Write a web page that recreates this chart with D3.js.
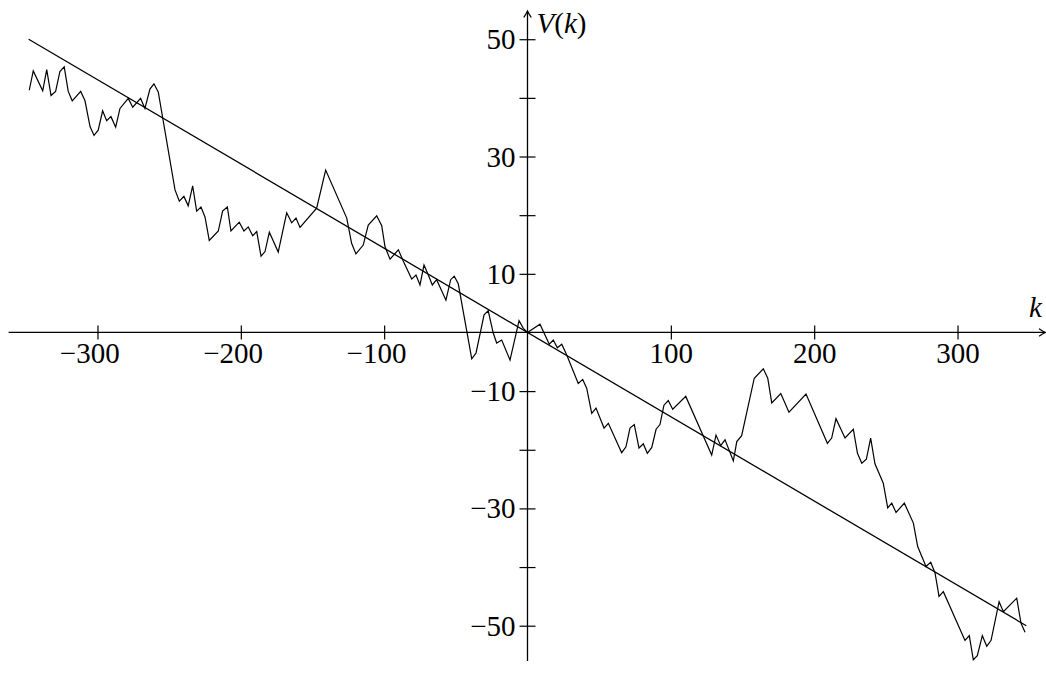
<!DOCTYPE html>
<html>
<head>
<meta charset="utf-8">
<script src="https://cdn.jsdelivr.net/npm/d3@7"></script>
<style>
  body { margin: 0; background: #fff; }
  svg { display: block; }
  .lbl { font-family: "Liberation Serif", "DejaVu Serif", serif; font-size: 29px; fill: #000; }
</style>
</head>
<body>
<div id="chart"></div>
<script>
// random walk V(k)
var walkK = [
  -347.6,-344.8,-338.2,-335.4,-332.4,-329.2,-326.2,-323.2,-320.4,-317.6,
  -311.7,-308.7,-305.2,-302.4,-299.5,-296.4,-293.6,-290.6,-287.3,-284.3,
  -278.5,-275.4,-269.9,-266.9,-263.4,-260.6,-257.6,-245.9,-242.9,-239.7,
  -236.7,-233.6,-230.8,-227.8,-225.0,-222.0,-215.7,-212.7,-209.4,-206.9,
  -201.1,-197.8,-194.8,-191.7,-188.9,-185.9,-183.1,-180.1,-173.9,-168.0,
  -164.5,-161.5,-158.7,-147.1,-140.8,-126.1,-122.7,-119.7,-114.6,-111.1,
  -105.2,-101.7,-99.4,-95.9,-90.1,-86.7,-80.8,-77.8,-75.0,-72.2,
  -69.2,-66.4,-63.4,-56.9,-53.6,-51.1,-48.3,-38.9,-35.9,-30.3,
  -27.4,-23.9,-21.5,-18.0,-12.2,-5.9,-2.9,0,8.7,15.2,
  18.0,20.8,23.9,27.3,35.4,38.5,41.3,44.8,47.8,53.4,
  56.4,65.7,68.7,71.5,74.5,77.8,80.8,83.6,86.7,89.7,
  92.4,95.2,98.2,101.3,110.4,128.5,131.5,134.8,137.8,143.6,
  146.0,149.4,158.2,164.5,167.6,170.4,176.7,182.4,194.3,209.2,
  212.2,215.2,221.5,227.3,230.2,233.2,236.4,239.4,242.4,248.2,
  251.3,254.1,257.1,262.9,269.2,272.2,278.0,281.3,284.3,287.1,
  290.1,305.2,308.2,311.0,313.8,317.3,320.4,323.4,329.0,332.0,
  341.3,344.3,347.1
];
var walkV = [
  41.3,44.6,41.2,44.8,40.4,41.1,44.5,45.3,41.1,39.5,
  41.1,39.5,35.1,33.6,34.5,37.8,36.1,36.8,35.0,38.2,
  39.9,38.4,39.9,38.2,41.5,42.4,41.0,24.3,22.4,23.2,
  21.6,25.0,20.7,21.4,19.7,15.7,17.3,20.7,21.4,17.3,
  18.8,17.3,18.0,16.5,17.2,13.0,13.8,17.1,13.7,20.4,
  18.7,19.5,17.9,21.2,27.7,19.5,15.2,13.4,14.9,18.3,
  19.9,18.2,14.6,12.5,14.1,12.2,9.1,9.8,8.1,11.5,
  9.8,8.1,9.0,5.5,9.0,9.6,8.3,-4.5,-3.5,3.0,
  3.7,-0.1,-1.8,-1.3,-4.7,2.0,0.7,0,1.4,-2.0,
  -1.3,-2.6,-2.0,-3.8,-8.7,-8.0,-9.5,-13.8,-12.9,-16.3,
  -15.5,-20.5,-19.5,-16.3,-15.7,-19.7,-19.0,-20.6,-19.6,-16.5,
  -15.7,-12.4,-11.6,-13.1,-10.9,-20.9,-17.5,-19.3,-18.3,-21.9,
  -18.6,-17.6,-7.8,-6.2,-7.8,-12.0,-10.4,-13.6,-10.5,-18.9,
  -18.0,-14.7,-18.0,-16.5,-20.6,-22.3,-21.6,-18.0,-22.4,-25.7,
  -29.9,-29.1,-30.7,-29.1,-32.5,-36.5,-39.9,-39.2,-41.0,-45.0,
  -44.2,-52.5,-51.7,-55.8,-55.1,-51.7,-53.5,-52.5,-45.9,-47.6,
  -45.3,-49.6,-51.1
];
// fitted straight line
var trendK = [-348, 348];
var trendV = [50, -50];

var xTicks = [-300, -200, -100, 100, 200, 300];
var yTicks = [-50, -40, -30, -20, -10, 10, 20, 30, 40, 50];
var yLabels = [-50, -30, -10, 10, 30, 50];

var width = 1046, height = 682;

var x = d3.scaleLinear().domain([-362, 362]).range([8.6, 1046.4]);
var y = d3.scaleLinear().domain([-56, 55]).range([660.9, 9.9]);

var svg = d3.select('#chart')
  .append('svg')
  .attr('width', width)
  .attr('height', height);

var defs = svg.append('defs');
defs.append('marker')
  .attr('id', 'arrow')
  .attr('viewBox', '-8 -5 10 10')
  .attr('refX', 0)
  .attr('refY', 0)
  .attr('markerWidth', 10)
  .attr('markerHeight', 10)
  .attr('markerUnits', 'userSpaceOnUse')
  .attr('orient', 'auto')
  .append('path')
  .attr('d', 'M-6,-3.5 Q-2,-0.8 0,0 Q-2,0.8 -6,3.5')
  .attr('fill', 'none')
  .attr('stroke', '#000')
  .attr('stroke-width', 1.2)
  .attr('stroke-linecap', 'round');

// x axis
var xAxis = d3.axisBottom(x)
  .tickValues(xTicks)
  .tickSizeInner(7)
  .tickSizeOuter(0)
  .tickPadding(0)
  .tickFormat(function(d){ return Math.abs(d); });

var gx = svg.append('g')
  .attr('transform', 'translate(0,' + y(0) + ')')
  .call(xAxis);
gx.select('.domain').remove();
gx.selectAll('.tick line')
  .attr('y1', -7).attr('y2', 7)
  .attr('stroke', '#000').attr('stroke-width', 1.2);
gx.selectAll('.tick text')
  .attr('class', 'lbl')
  .attr('font-family', null).attr('font-size', null)
  .attr('dy', null)
  .attr('y', 31)
  .each(function(d){
    if (d < 0) {
      var w = this.getComputedTextLength();
      d3.select(this)
        .attr('text-anchor', 'end')
        .attr('x', w / 2)
        .text('\u2212' + Math.abs(d));
    }
  });

svg.append('line')
  .attr('x1', x(-362)).attr('x2', x(361.3))
  .attr('y1', y(0)).attr('y2', y(0))
  .attr('stroke', '#000').attr('stroke-width', 1.3)
  .attr('marker-end', 'url(#arrow)');

// y axis
var yAxis = d3.axisLeft(y)
  .tickValues(yTicks)
  .tickSizeInner(8)
  .tickSizeOuter(0)
  .tickPadding(4)
  .tickFormat(function(d){
    return yLabels.indexOf(d) >= 0 ? (d < 0 ? '\u2212' + Math.abs(d) : d) : '';
  });

var gy = svg.append('g')
  .attr('transform', 'translate(' + x(0) + ',0)')
  .call(yAxis);
gy.select('.domain').remove();
gy.selectAll('.tick line')
  .attr('x1', -8).attr('x2', 8)
  .attr('stroke', '#000').attr('stroke-width', 1.2);
gy.selectAll('.tick text')
  .attr('class', 'lbl')
  .attr('font-family', null).attr('font-size', null)
  .attr('dy', '0.33em');

svg.append('line')
  .attr('x1', x(0)).attr('x2', x(0))
  .attr('y1', y(-56)).attr('y2', y(54.8))
  .attr('stroke', '#000').attr('stroke-width', 1.3)
  .attr('marker-end', 'url(#arrow)');

// axis labels
var vLab = svg.append('text')
  .attr('class', 'lbl')
  .attr('x', x(0) + 9)
  .attr('y', 33);
vLab.append('tspan').attr('font-style', 'italic').text('V');
vLab.append('tspan').text('(');
vLab.append('tspan').attr('font-style', 'italic').text('k');
vLab.append('tspan').text(')');

svg.append('text')
  .attr('class', 'lbl')
  .attr('font-style', 'italic')
  .attr('x', 1029)
  .attr('y', 317)
  .text('k');

// data
var line = d3.line()
  .x(function(d){ return x(d[0]); })
  .y(function(d){ return y(d[1]); });

svg.append('path')
  .datum(d3.zip(trendK, trendV))
  .attr('d', line)
  .attr('fill', 'none')
  .attr('stroke', '#000')
  .attr('stroke-width', 1.3);

svg.append('path')
  .datum(d3.zip(walkK, walkV))
  .attr('d', line)
  .attr('fill', 'none')
  .attr('stroke', '#000')
  .attr('stroke-width', 1.2)
  .attr('stroke-linejoin', 'miter');
</script>
</body>
</html>
